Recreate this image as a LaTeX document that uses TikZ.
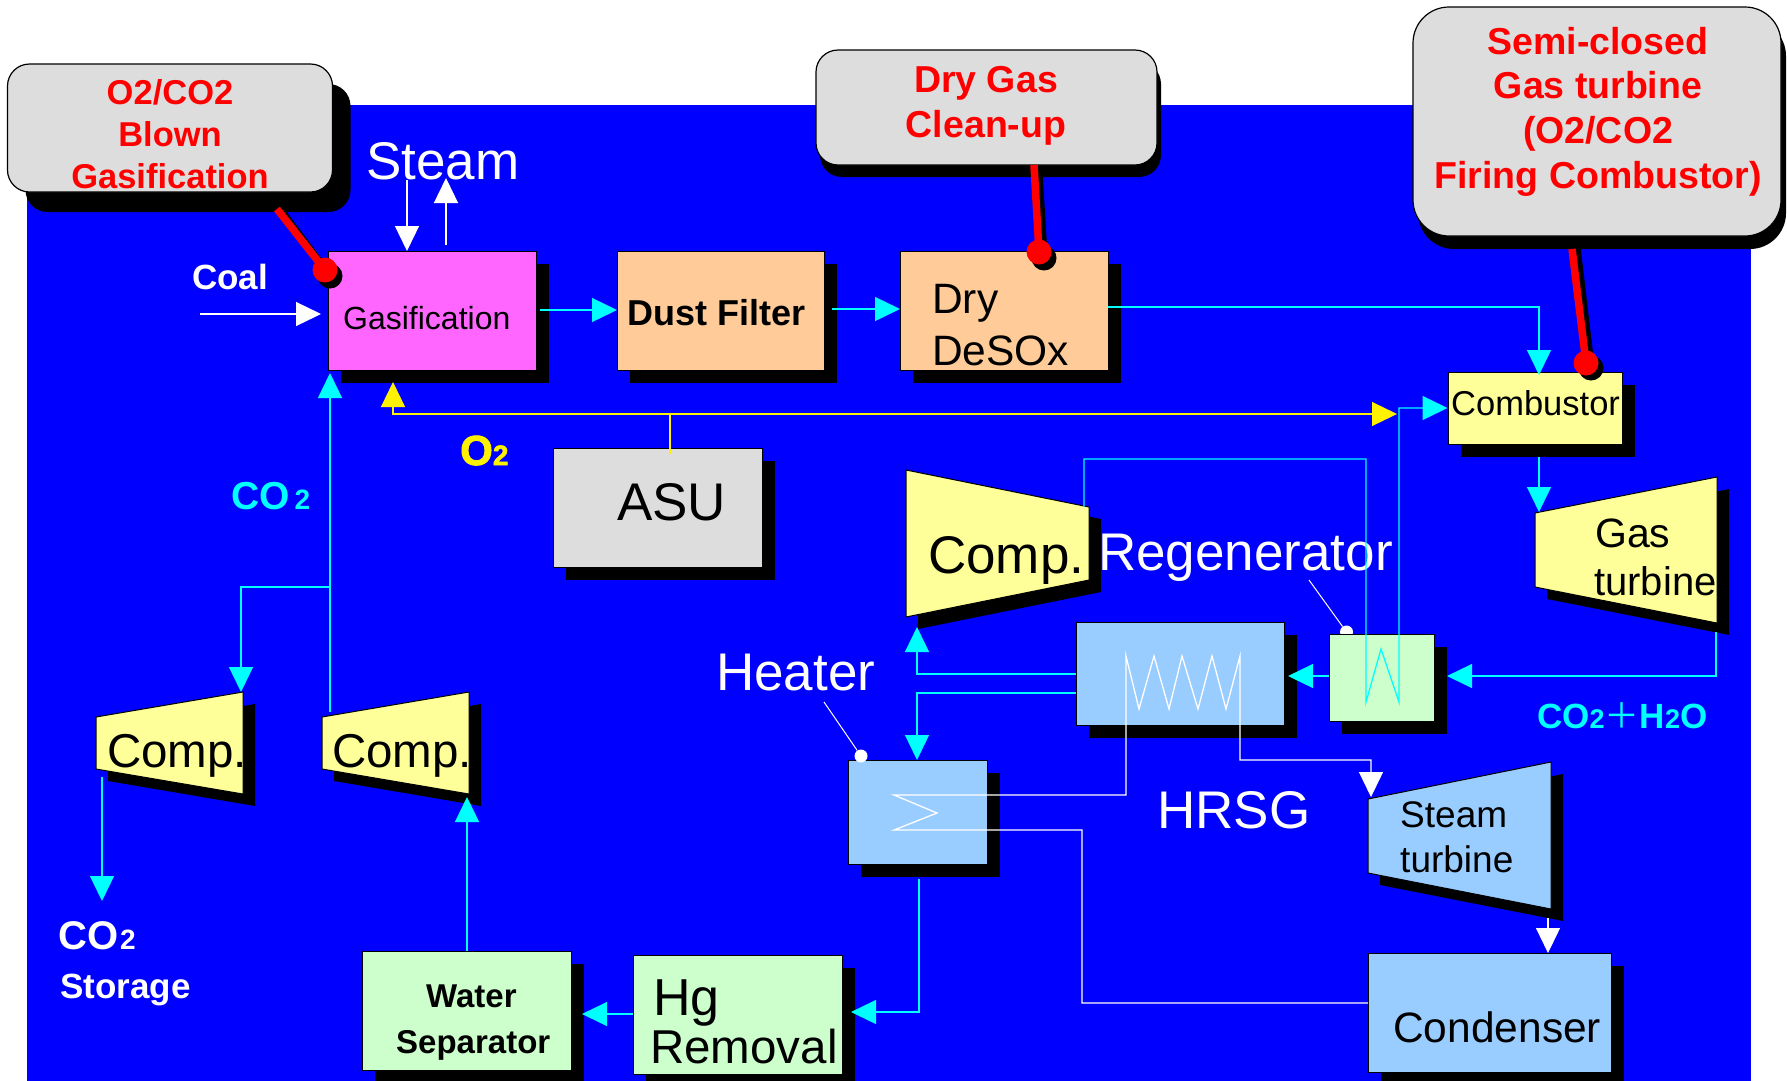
\documentclass[tikz,border=0pt]{standalone}
\usepackage{fontspec}
\setmainfont{Liberation Sans}
\newfontfamily\cjkfont{Noto Sans CJK JP}
\newfontface\heavyfont[FakeBold=2]{Liberation Sans Bold}
\usetikzlibrary{arrows.meta, shadows}
\newcommand{\fsz}[1]{\fontsize{#1}{#1}\selectfont}
\definecolor{panelblue}{HTML}{0000FF}
\definecolor{flowcyan}{HTML}{00FFFF}
\definecolor{pinkfill}{HTML}{FF66FF}
\definecolor{peachfill}{HTML}{FFCC99}
\definecolor{yellowfill}{HTML}{FFFF99}
\definecolor{bluefill}{HTML}{99CCFF}
\definecolor{greenfill}{HTML}{CCFFCC}
\definecolor{grayfill}{HTML}{DDDDDD}

\begin{document}
\begin{tikzpicture}[
    x=1pt, y=-1pt,
    box/.style={rectangle, draw=black, line width=1pt, inner sep=0pt, drop shadow={shadow xshift=13pt, shadow yshift=-13pt, fill=black, opacity=1}},
    callout/.style={rectangle, rounded corners=22pt, draw=black, line width=1.2pt, fill=grayfill, inner sep=0pt},
    machine/.style={draw=black, line width=1pt, drop shadow={shadow xshift=12pt, shadow yshift=-12pt, fill=black, opacity=1}},
    txt/.style={inner sep=0pt, anchor=base west},
    whitetxt/.style={txt, text=white},
    redtxt/.style={inner sep=0pt, anchor=base, text=red, font=\fsz{37.5}\bfseries},
    cyanflow/.style={draw=flowcyan, line width=1.3pt, -{Triangle[width=24pt,length=25pt]}},
    whiteflow/.style={draw=white, line width=1.3pt, -{Triangle[width=24pt,length=25pt]}},
    yellowflow/.style={draw=yellow, line width=1.2pt, -{Triangle[width=24pt,length=25pt]}},
    pointer/.style={draw=red, line width=7.5pt},
    pointershade/.style={draw=black, line width=7.5pt},
    leader/.style={draw=white, line width=1pt}
]

% background panel
\fill[panelblue] (27,105) rectangle (1751,1082);

% callouts
\node[callout, minimum width=325pt, minimum height=128pt, drop shadow={shadow xshift=18pt, shadow yshift=-20pt, fill=black, opacity=1}] (gasnote) at (170,128) {};
\node[callout, minimum width=341pt, minimum height=115pt, drop shadow={shadow xshift=4pt, shadow yshift=-12pt, fill=black, opacity=1}] (drynote) at (986.5,107.5) {};
\node[callout, rounded corners=36pt, minimum width=368pt, minimum height=229pt, drop shadow={shadow xshift=5pt, shadow yshift=-13pt, fill=black, opacity=1}] (gtnote) at (1597,121.5) {};

\node[redtxt, font=\fsz{34.5}\bfseries] (gasnotea) at (170,104) {O2/CO2};
\node[redtxt, font=\fsz{34.5}\bfseries] (gasnoteb) at (170,146) {Blown};
\node[redtxt, font=\fsz{34.5}\bfseries] (gasnotec) at (170,188) {Gasification};
\node[redtxt] (drynotea) at (986,92) {Dry Gas};
\node[redtxt] (drynoteb) at (986,137) {Clean-up};
\node[redtxt] (gtnotea) at (1598,54) {Semi-closed};
\node[redtxt] (gtnoteb) at (1598,98) {Gas turbine};
\node[redtxt] (gtnotec) at (1598,143) {(O2/CO2};
\node[redtxt] (gtnoted) at (1598,188) {Firing Combustor)};

% process boxes
\node[box, fill=pinkfill, minimum width=208pt, minimum height=119pt] (gasif) at (432,310.5) {};
\node[box, fill=peachfill, minimum width=207pt, minimum height=119pt] (filter) at (720.5,310.5) {};
\node[box, fill=peachfill, minimum width=208pt, minimum height=119pt] (desox) at (1004,310.5) {};
\node[box, fill=yellowfill, minimum width=174pt, minimum height=72pt] (combustor) at (1535,408) {};
\node[box, fill=grayfill, minimum width=209pt, minimum height=119pt] (asu) at (657.5,507.5) {};
\node[box, fill=bluefill, minimum width=208pt, minimum height=103pt] (hrsg) at (1180,673.5) {};
\node[circle, fill=white, minimum size=13pt, inner sep=0pt] (regendot) at (1346.5,632) {};
\node[box, fill=greenfill, minimum width=105pt, minimum height=87pt] (regen) at (1381.5,677.5) {};
\node[box, fill=bluefill, minimum width=139pt, minimum height=104pt] (heater) at (917.5,812) {};
\node[circle, fill=white, minimum size=13pt, inner sep=0pt] (heaterdot) at (861,756) {};
\node[box, fill=greenfill, minimum width=209pt, minimum height=119pt] (watersep) at (466.5,1010.5) {};
\node[box, fill=greenfill, minimum width=209pt, minimum height=119pt] (hgrem) at (737.5,1014.5) {};
\node[box, fill=bluefill, minimum width=243pt, minimum height=119pt] (condenser) at (1489.5,1012.5) {};

% compressors and turbines
\path[machine, fill=yellowfill] (96,717) -- (243,692) -- (243,794) -- (96,769) -- cycle;
\path[machine, fill=yellowfill] (322,717) -- (469,692) -- (469,794) -- (322,769) -- cycle;
\path[machine, fill=yellowfill] (906,470) -- (1089,507) -- (1089,580) -- (906,617) -- cycle;
\path[machine, fill=yellowfill] (1535,513) -- (1717,477) -- (1717,623) -- (1535,587) -- cycle;
\path[machine, fill=bluefill] (1368,799) -- (1551,762) -- (1551,909) -- (1368,873) -- cycle;

% box texts
\node[txt, font=\fsz{32}] (gasiftxt) at (343,329) {Gasification};
\node[txt, font=\fsz{36}\bfseries] (filtertxt) at (627,325) {Dust Filter};
\node[txt, font=\fsz{42.5}] (desoxa) at (932,313) {Dry};
\node[txt, font=\fsz{42.5}] (desoxb) at (932,365) {DeSOx};
\node[txt, font=\fsz{34.5}] (combtxt) at (1451,415) {Combustor};
\node[txt, font=\fsz{53}] (asutxt) at (617,520) {ASU};
\node[txt, font=\fsz{53}] (compctxt) at (928,573) {Comp.};
\node[txt, font=\fsz{47.5}] (compatxt) at (107,767) {Comp.};
\node[txt, font=\fsz{47.5}] (compbtxt) at (332,767) {Comp.};
\node[txt, font=\fsz{41}] (gasa) at (1595,547) {Gas};
\node[txt, font=\fsz{40}] (gasb) at (1594,595) {turbine};
\node[txt, font=\fsz{37}] (steama) at (1400,827) {Steam};
\node[txt, font=\fsz{37}] (steamb) at (1400,872) {turbine};
\node[txt, font=\fsz{42.5}] (condtxt) at (1393,1042) {Condenser};
\node[txt, font=\fsz{52}] (hga) at (653,1015) {Hg};
\node[txt, font=\fsz{47.5}] (hgb) at (650,1063) {Removal};
\node[txt, font=\fsz{33}\bfseries] (watera) at (426,1007) {Water};
\node[txt, font=\fsz{33}\bfseries] (waterb) at (396,1053) {Separator};

% free labels
\node[whitetxt, font=\fsz{53}] (steamlbl) at (366,179) {Steam};
\node[whitetxt, font=\fsz{35}\bfseries] (coallbl) at (192,289) {Coal};
\node[whitetxt, font=\fsz{53}] (regenlbl) at (1098,570) {Regenerator};
\node[whitetxt, font=\fsz{53}] (heaterlbl) at (716,690) {Heater};
\node[whitetxt, font=\fsz{53}] (hrsglbl) at (1157,828) {HRSG};
\node[whitetxt, font=\fsz{40}\bfseries] (storco) at (58,949) {CO\hspace{2pt}{\fsz{28}2}};
\node[whitetxt, font=\fsz{35}\bfseries] (storlbl) at (60,998) {Storage};
\node[txt, text=yellow, font=\fsz{42}\heavyfont] (oxylbl) at (460,465) {O{\fsz{28}2}};
\node[txt, text=flowcyan, font=\fsz{39}\bfseries] (cotwolbl) at (231,509) {CO\hspace{5pt}{\fsz{28}2}};
\node[txt, text=flowcyan, font=\fsz{35}\bfseries] (fluelbl) at (1537,728) {CO{\fsz{27}2}{\cjkfont\mdseries\fsz{35}＋}H{\fsz{27}2}O};

% free ends and junctions
\coordinate (coalin) at (200,314);
\coordinate (coaltip) at (321,314);
\coordinate (steamin) at (407,180);
\coordinate (steamtip) at (407,251);
\coordinate (steamout) at (446,245);
\coordinate (steamtop) at (446,178);
\coordinate (asuout) at (670,454);
\coordinate (oxyjoin) at (670,414);
\coordinate (oxyleft) at (393,382);
\coordinate (oxyright) at (1397,414);
\coordinate (compbout) at (330,712);
\coordinate (gasifin) at (330,373);
\coordinate (cotwojoin) at (330,587);
\coordinate (compain) at (241,692);
\coordinate (compaout) at (102,777);
\coordinate (storagetip) at (102,901);
\coordinate (compbin) at (467,797);
\coordinate (waterout) at (467,951);
\coordinate (gtin) at (1539,512);
\coordinate (gtout) at (1716,632);
\coordinate (regenin) at (1447,676);
\coordinate (regenout) at (1329,676);
\coordinate (hrsgin) at (1288,676);
\coordinate (hrsgouta) at (1076,674);
\coordinate (compcin) at (917,627);
\coordinate (compcout) at (1084,507);
\coordinate (hrsgoutb) at (1076,693);
\coordinate (heaterin) at (917,760);
\coordinate (heaterout) at (919,879);
\coordinate (hgin) at (851,1012);
\coordinate (hgout) at (633,1014);
\coordinate (waterin) at (582,1014);
\coordinate (condin) at (1368,1003);
\coordinate (stin) at (1371,797);
\coordinate (stout) at (1548,918);
\coordinate (condtop) at (1548,953);
\coordinate (combtop) at (1539,375);
\coordinate (combout) at (1539,457);
\coordinate (filterout) at (832,309);
\coordinate (desoxin) at (900,309);
\coordinate (desoxout) at (1108,307);
\coordinate (filterin) at (617,310);
\coordinate (gasifout) at (540,310);

% cyan gas lines
\draw[cyanflow] (gasifout) -- (filterin);
\draw[cyanflow] (filterout) -- (desoxin);
\draw[cyanflow] (desoxout) -| (combtop);
\draw[cyanflow] (combout) -- (gtin);
\draw[cyanflow] (gtout) |- (regenin);
\draw[cyanflow] (regenout) -- (hrsgin);
\draw[cyanflow] (hrsgouta) -| (compcin);
\draw[cyanflow] (hrsgoutb) -| (heaterin);
\draw[cyanflow] (heaterout) |- (hgin);
\draw[cyanflow] (hgout) -- (waterin);
\draw[cyanflow] (waterout) -- (compbin);
\draw[cyanflow] (compbout) -- (gasifin);
\draw[cyanflow] (cotwojoin) -| (compain);
\draw[cyanflow] (compaout) -- (storagetip);
\draw[cyanflow] (compcout) -- (1084,459) -- (1366,459) -- (1366,702) -- (1381,649) -- (1399,702) |- (combustor.west);

% oxygen lines
\draw[draw=yellow, line width=1.2pt] (asuout) -- (oxyjoin);
\draw[yellowflow] (oxyjoin) -| (oxyleft);
\draw[yellowflow] (oxyjoin) -- (oxyright);

% white steam lines
\draw[whiteflow] (coalin) -- (coaltip);
\draw[whiteflow] (steamin) -- (steamtip);
\draw[whiteflow] (steamout) -- (steamtop);
\draw[whiteflow] (stout) -- (condtop);
\draw[whiteflow] (condin) -- (1082,1003) -- (1082,830) -- (894,830) -- (937,813) -- (894,795) -- (1126,795) -- (1126,656)
    -- (1139,709) -- (1154,656) -- (1169,709) -- (1182,656) -- (1198,709) -- (1212,656) -- (1226,709) -- (1240,656)
    -- (1240,760) -- (1371,760) -- (stin);

% leaders
\draw[leader] (heaterdot) -- (824,702);
\draw[leader] (regendot) -- (1309,580);

% red pointers
\draw[pointershade] (282,212) -- (330,276);
\fill[black] (330,276) circle (12.5);
\draw[pointer] (277,209) -- (325,270);
\node[circle, fill=red, minimum size=25pt, inner sep=0pt] (gasdot) at (325,270) {};
\draw[pointershade] (1039,176) -- (1044,258);
\fill[black] (1044,258) circle (12.5);
\draw[pointer] (1034,165) -- (1039,252);
\node[circle, fill=red, minimum size=25pt, inner sep=0pt] (drydot) at (1039,252) {};
\draw[pointershade] (1577,249) -- (1591,368);
\fill[black] (1591,368) circle (12.5);
\draw[pointer] (1572,249) -- (1586,363);
\node[circle, fill=red, minimum size=25pt, inner sep=0pt] (gtdot) at (1586,363) {};

% page size
\pgfresetboundingbox
\useasboundingbox (0,0) rectangle (1787,1080);
\end{tikzpicture}
\end{document}
